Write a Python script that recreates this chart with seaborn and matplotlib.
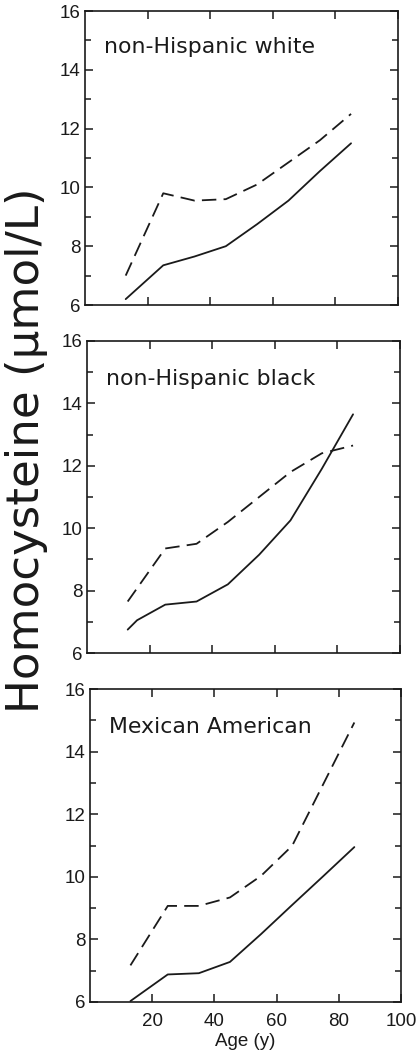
import numpy as np
import pandas as pd
import matplotlib
matplotlib.use("Agg")
import matplotlib.pyplot as plt
import seaborn as sns
from matplotlib.ticker import MultipleLocator, FixedLocator

# ---- data ----
ages = [13, 25, 35, 45, 55, 65, 75, 85]

white_solid = [6.2, 7.35, 7.65, 8.0, 8.75, 9.55, 10.55, 11.5]
white_dashed = [7.0, 9.8, 9.55, 9.6, 10.1, 10.85, 11.6, 12.5]

black_solid_ages = [13, 16, 25, 35, 45, 55, 65, 75, 85]
black_solid = [6.75, 7.05, 7.55, 7.65, 8.2, 9.15, 10.25, 11.9, 13.65]
black_dashed = [7.65, 9.35, 9.5, 10.2, 11.0, 11.8, 12.4, 12.65]

mex_solid = [6.03, 6.88, 6.92, 7.28, 8.17, 9.1, 10.02, 10.95]
mex_dashed = [7.17, 9.07, 9.07, 9.34, 10.03, 10.99, 12.96, 14.93]

panel_titles = ["non-Hispanic white", "non-Hispanic black", "Mexican American"]
x_ticks = [20, 40, 60, 80, 100]
y_ticks = [6, 8, 10, 12, 14, 16]
y_label = "Homocysteine (\u03bcmol/L)"
x_label = "Age (y)"

# ---- style ----
sns.set_theme(style="ticks")
plt.rcParams["font.family"] = ["Liberation Sans", "DejaVu Sans"]

W, H = 418, 1057
fig = plt.figure(figsize=(W / 100, H / 100), dpi=100)

# axes boxes in pixels: left, right, top, bottom
boxes = [(85, 398, 11, 305), (87, 400, 341, 653), (90, 401, 689, 1002)]

panels = [
    (ages, white_solid, ages, white_dashed),
    (black_solid_ages, black_solid, ages, black_dashed),
    (ages, mex_solid, ages, mex_dashed),
]

ink = "#1a1a1a"
for i, ((xs, ys, xd, yd), (l, r, t, b), title) in enumerate(zip(panels, boxes, panel_titles)):
    ax = fig.add_axes([l / W, 1 - b / H, (r - l) / W, (b - t) / H])
    sns.lineplot(x=xs, y=ys, ax=ax, color=ink, linewidth=1.3, sort=False)
    sns.lineplot(x=xd, y=yd, ax=ax, color=ink, linewidth=1.3, sort=False,
                 linestyle=(0, (8, 4)))
    ax.set_xlim(0, 100)
    ax.set_ylim(6, 16)
    ax.xaxis.set_major_locator(FixedLocator(x_ticks))
    ax.yaxis.set_major_locator(FixedLocator(y_ticks))
    ax.yaxis.set_minor_locator(MultipleLocator(1))
    ax.tick_params(which="both", direction="in", top=True, right=True,
                   color=ink, width=1.1)
    ax.tick_params(which="major", length=6)
    ax.tick_params(which="minor", length=4)
    ax.tick_params(axis="y", which="major", labelsize=13.5, pad=3, labelcolor=ink)
    ax.tick_params(axis="x", which="major", labelsize=13.5, pad=8, labelcolor=ink)
    if i < 2:
        ax.set_xticklabels([])
    for s in ax.spines.values():
        s.set_linewidth(1.2)
        s.set_color(ink)
    ax.set_xlabel("")
    ax.set_ylabel("")
    ax.text(6.2, 14.77, title, fontsize=15.8, family="DejaVu Sans",
            ha="left", va="center", color=ink)
    if i == 2:
        ax.set_xlabel(x_label, fontsize=13.5, color=ink, labelpad=2)

fig.text(27 / W, 1 - 450 / H, y_label, rotation=90, ha="center", va="center",
         fontsize=32.5, family="DejaVu Sans", color=ink)

fig.savefig("out.png", dpi=100, facecolor="white")
